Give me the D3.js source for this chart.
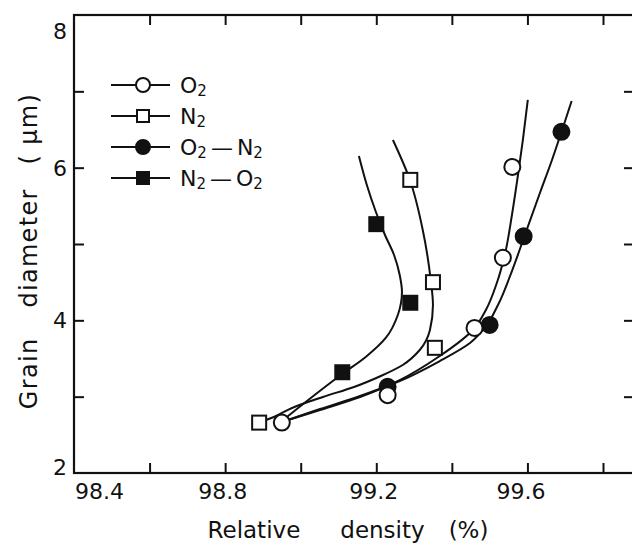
<!DOCTYPE html>
<html>
<head>
<meta charset="utf-8">
<script src="https://cdn.jsdelivr.net/npm/d3@7/dist/d3.min.js"></script>
<style>
  body { margin: 0; background: #fff; }
  svg text { font-family: "DejaVu Sans", sans-serif; fill: #111; }
</style>
</head>
<body>
<div id="chart"></div>
<script>
// measured points [relative density %, grain diameter um]
var o2Points = [[98.95, 2.66], [99.23, 3.02], [99.46, 3.90], [99.535, 4.82], [99.56, 6.01]];
var n2Points = [[98.89, 2.66], [99.355, 3.64], [99.35, 4.50], [99.29, 5.84]];
var o2n2Points = [[99.23, 3.13], [99.50, 3.94], [99.59, 5.10], [99.69, 6.47]];
var n2o2Points = [[99.11, 3.32], [99.29, 4.23], [99.20, 5.26]];

// hand drawn fit curves (bottom to top)
var o2Fit = [[98.95, 2.668], [99.051, 2.825], [99.157, 2.996], [99.262, 3.218], [99.368, 3.533],
  [99.458, 3.887], [99.490, 4.135], [99.519, 4.489], [99.540, 4.856], [99.559, 5.380],
  [99.575, 5.904], [99.588, 6.363], [99.601, 6.887]];
var n2Fit = [[98.89, 2.66], [98.929, 2.734], [98.977, 2.852], [99.059, 2.996], [99.141, 3.127],
  [99.212, 3.271], [99.270, 3.415], [99.315, 3.611], [99.342, 3.873], [99.350, 4.201],
  [99.344, 4.529], [99.323, 5.184], [99.289, 5.839], [99.244, 6.363]];
var o2n2Fit = [[98.95, 2.668], [99.051, 2.838], [99.157, 3.009], [99.262, 3.205], [99.368, 3.467],
  [99.448, 3.703], [99.487, 3.900], [99.522, 4.201], [99.559, 4.646], [99.596, 5.157],
  [99.633, 5.668], [99.665, 6.101], [99.691, 6.481], [99.717, 6.874]];
var n2o2Fit = [[98.95, 2.681], [99.030, 2.996], [99.106, 3.284], [99.172, 3.520], [99.225, 3.769],
  [99.257, 4.070], [99.268, 4.371], [99.262, 4.594], [99.247, 4.856], [99.223, 5.118],
  [99.199, 5.419], [99.175, 5.773], [99.154, 6.153]];

var xTickValues = [98.6, 98.8, 99.0, 99.2, 99.4, 99.6, 99.8];
var xLabelValues = [98.4, 98.8, 99.2, 99.6];
var yTickValues = [3, 4, 5, 6, 7];
var yLabelValues = [2, 4, 6, 8];

var legendNames = [["O2"], ["N2"], ["O2", "N2"], ["N2", "O2"]];

(function() {
  var margin = { top: 15, left: 74, right: -2, bottom: 78 },
  width = 632 - margin.left - margin.right,
  height = 551 - margin.top - margin.bottom;

  var svg = d3.select("#chart")
    .append("svg")
    .attr("width", 632)
    .attr("height", 551)
    .append("g")
    .attr("transform", "translate(" + margin.left + "," + margin.top + ")");

  var xPositionScale = d3.scaleLinear()
    .domain([98.4, 99.8])
    .range([0, 529]);

  var yPositionScale = d3.scaleLinear()
    .domain([2, 8])
    .range([height, 0]);

  var ink = "#111";

  // frame
  svg.append("rect")
    .attr("x", 0)
    .attr("y", 0)
    .attr("width", width)
    .attr("height", height)
    .attr("fill", "none")
    .attr("stroke", ink)
    .attr("stroke-width", 2.2);

  // inward ticks on all four sides
  var tickLen = 10;
  svg.append("g")
    .attr("class", "axis x-axis")
    .attr("transform", "translate(0," + height + ")")
    .call(d3.axisBottom(xPositionScale).tickValues(xTickValues).tickSize(-tickLen).tickFormat(""));
  svg.append("g")
    .attr("class", "axis x-axis-top")
    .call(d3.axisTop(xPositionScale).tickValues(xTickValues).tickSize(-tickLen).tickFormat(""));
  svg.append("g")
    .attr("class", "axis y-axis")
    .call(d3.axisLeft(yPositionScale).tickValues(yTickValues).tickSize(-tickLen).tickFormat(""));
  svg.append("g")
    .attr("class", "axis y-axis-right")
    .attr("transform", "translate(" + width + ",0)")
    .call(d3.axisRight(yPositionScale).tickValues(yTickValues).tickSize(-tickLen).tickFormat(""));

  svg.selectAll(".axis .domain").remove();
  svg.selectAll(".axis line").attr("stroke", ink).attr("stroke-width", 2);

  // tick labels
  var xLabels = svg.append("g")
    .attr("class", "axis x-labels")
    .attr("transform", "translate(0," + height + ")")
    .call(d3.axisBottom(xPositionScale).tickValues(xLabelValues).tickSize(0).tickPadding(10)
      .tickFormat(d3.format(".1f")));
  xLabels.select(".domain").remove();
  xLabels.selectAll("text")
    .attr("font-size", 22)
    .attr("fill", ink)
    .attr("dy", "0.71em")
    .attr("dx", function(d) { return d === 98.4 ? 25 : (d === 99.6 ? -7 : -3); });

  var yLabels = svg.append("g")
    .attr("class", "axis y-labels")
    .call(d3.axisLeft(yPositionScale).tickValues(yLabelValues).tickSize(0).tickPadding(7)
      .tickFormat(d3.format("d")));
  yLabels.select(".domain").remove();
  yLabels.selectAll("text")
    .attr("font-size", 22)
    .attr("fill", ink)
    .attr("dy", function(d) { return d === 8 ? "1.05em" : (d === 2 ? "0.05em" : "0.34em"); });

  // axis titles
  var xTitle = svg.append("text")
    .attr("x", 274)
    .attr("y", 523)
    .attr("text-anchor", "middle")
    .attr("font-size", 23);
  xTitle.append("tspan").text("Relative");
  xTitle.append("tspan").attr("dx", 40).text("density");
  xTitle.append("tspan").attr("dx", 24).text("(%)");

  var yTitle = svg.append("text")
    .attr("transform", "translate(-37,236) rotate(-90)")
    .attr("text-anchor", "middle")
    .attr("font-size", 24)
    .attr("letter-spacing", 1.3);
  yTitle.append("tspan").text("Grain");
  yTitle.append("tspan").attr("dx", 30).text("diameter");
  yTitle.append("tspan").attr("dx", 24).text("( μm)");

  // fit curves
  var line = d3.line()
    .x(function(d) { return xPositionScale(d[0]); })
    .y(function(d) { return yPositionScale(d[1]); })
    .curve(d3.curveMonotoneY);

  [o2Fit, n2Fit, o2n2Fit, n2o2Fit].forEach(function(fit) {
    svg.append("path")
      .datum(fit)
      .attr("d", line)
      .attr("fill", "none")
      .attr("stroke", ink)
      .attr("stroke-width", 2);
  });

  // markers
  function drawCircles(data, filled, r) {
    svg.append("g").selectAll("circle")
      .data(data)
      .enter().append("circle")
      .attr("cx", function(d) { return xPositionScale(d[0]); })
      .attr("cy", function(d) { return yPositionScale(d[1]); })
      .attr("r", r)
      .attr("fill", filled ? ink : "#fff")
      .attr("stroke", ink)
      .attr("stroke-width", 2);
  }
  function drawSquares(data, filled, s) {
    svg.append("g").selectAll("rect")
      .data(data)
      .enter().append("rect")
      .attr("x", function(d) { return xPositionScale(d[0]) - s / 2; })
      .attr("y", function(d) { return yPositionScale(d[1]) - s / 2; })
      .attr("width", s)
      .attr("height", s)
      .attr("fill", filled ? ink : "#fff")
      .attr("stroke", ink)
      .attr("stroke-width", 2);
  }
  drawSquares(n2Points, false, 14);
  drawSquares(n2o2Points, true, 14);
  drawCircles(o2n2Points, true, 8);
  drawCircles(o2Points, false, 8);

  // legend
  var legend = svg.append("g")
    .attr("class", "legend")
    .attr("transform", "translate(37,70)");

  legendNames.forEach(function(parts, i) {
    var row = legend.append("g")
      .attr("transform", "translate(0," + (i * 31) + ")");
    row.append("line")
      .attr("x1", 0).attr("x2", 59)
      .attr("y1", 0).attr("y2", 0)
      .attr("stroke", ink)
      .attr("stroke-width", 2);
    var filled = i >= 2;
    if (i % 2 === 0) {
      row.append("circle")
        .attr("cx", 32).attr("cy", 0).attr("r", 7)
        .attr("fill", filled ? ink : "#fff")
        .attr("stroke", ink).attr("stroke-width", 2);
    } else {
      row.append("rect")
        .attr("x", 26).attr("y", -6).attr("width", 12).attr("height", 12)
        .attr("fill", filled ? ink : "#fff")
        .attr("stroke", ink).attr("stroke-width", 2);
    }
    var label = row.append("text")
      .attr("x", 69)
      .attr("y", 8)
      .attr("font-size", 22);
    parts.forEach(function(p, j) {
      if (j > 0) {
        label.append("tspan").attr("dx", 4).attr("dy", -3).text("—");
        label.append("tspan").attr("dx", 4).text(p[0]);
      } else {
        label.append("tspan").text(p[0]);
      }
      label.append("tspan").attr("font-size", 15).attr("dy", 3).text(p[1]);
    });
  });
})();
</script>
</body>
</html>
